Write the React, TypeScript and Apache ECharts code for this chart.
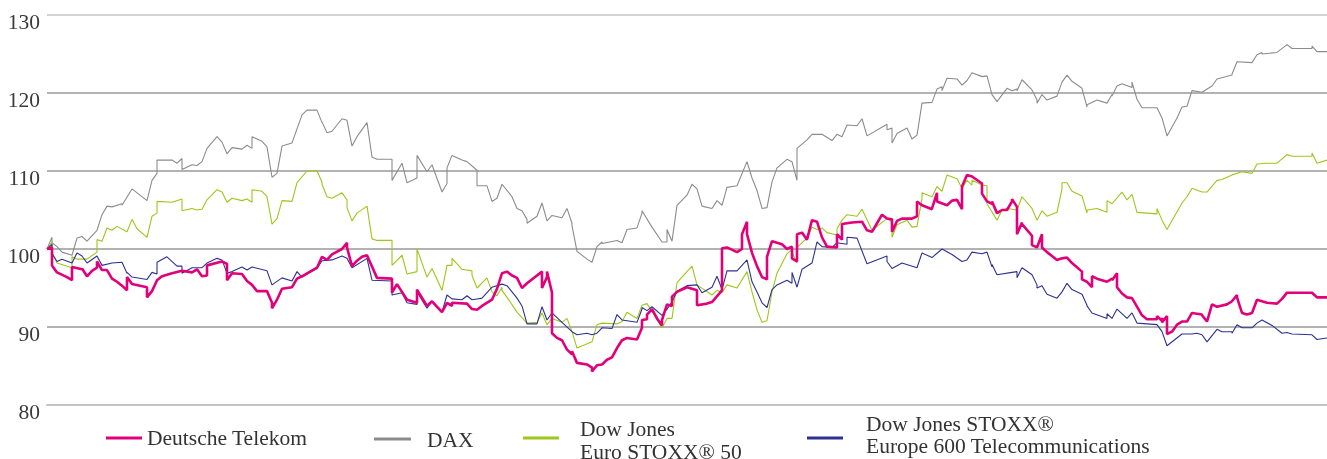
import React, { useEffect, useRef } from "react";
import * as echarts from "echarts";

// x = trading day of the year (0 = start, index 100), y = indexed value
const yTicks = [80, 90, 100, 110, 120, 130];
const seriesNames = ["Deutsche Telekom", "DAX", "Dow Jones\nEuro STOXX® 50", "Dow Jones STOXX®\nEurope 600 Telecommunications"];

const dax: [number, number][] = [
  [0,100],[1,101.5],[1,100.8],[2,100.3],[3,99.6],[5,99.2],[6,101.4],[7,101.6],[8,101],[10,102.4],[11,104.4],[12,105.5],[13,105.4],[15,105.8],[15,105.6],[17,107.7],[20,106.2],[21,108.8],[22,109.7],[22,111.4],[25,111.4],[26,111.0],[27,111.6],[27,110.2],[29,110.8],[30,110.7],[31,111.2],[32,112.9],[34,114.4],[35,113.7],[36,112.2],[37,113],[39,112.8],[40,113.3],[41,112.9],[41,114.4],[43,113.8],[44,113.1],[45,109.2],[46,109.7],[47,113.2],[49,113.6],[51,117.2],[52,117.8],[54,117.8],[55,116.2],[55,116.3],[56,114.9],[57,115.1],[59,116.7],[60,116.5],[61,113.2],[62,114.4],[64,116.2],[65,111.8],[66,111.5],[69,111.5],[69,108.8],[71,111],[72,108.5],[74,109.1],[74,112],[76,109.9],[77,110.8],[79,107.3],[80,108.4],[80,110.4],[81,112],[83,111.4],[84,111.2],[86,110.1],[86,108.1],[88,108.1],[89,106.1],[90,106.5],[91,108.3],[93,106.7],[94,105.2],[95,104.9],[96,103.8],[96,103.3],[98,104.2],[99,105.9],[100,103.6],[101,104.3],[103,104],[104,105.2],[105,103.3],[105,103],[106,99.7],[108,98.7],[109,98.3],[110,100.3],[111,100.9],[111,100.7],[114,101.1],[115,100.8],[116,102.5],[118,102.7],[119,104.6],[119,104.9],[121,102.8],[123,100.9],[124,100.9],[124,102.5],[125,101],[126,105.6],[128,106.9],[129,108.3],[130,107.7],[131,105.5],[133,105.2],[134,106.2],[135,105.6],[136,107.9],[138,108.1],[140,111.2],[141,109.1],[142,107.5],[143,105.2],[144,105.3],[145,108.6],[146,110.4],[148,111.5],[149,111.2],[150,108.8],[150,112.9],[152,114],[153,114.7],[155,114.7],[157,113.9],[158,114.7],[159,114.4],[160,115.9],[162,115.8],[163,116.7],[164,114.5],[168,116],[168,115.3],[169,115.5],[169,113.6],[170,114.8],[172,115.5],[173,114.1],[174,114.6],[175,118.7],[177,118.8],[178,120.5],[179,120.8],[179,120.3],[180,121.9],[182,121.8],[183,121],[184,121.6],[185,122.6],[187,122.1],[188,122.2],[189,119.8],[190,118.9],[192,120.6],[193,120.3],[194,120.5],[194,120.3],[195,121.7],[197,120.4],[198,119.1],[198,118.7],[199,119.8],[200,119.1],[202,119.6],[203,121.4],[204,122.3],[205,121.5],[207,120.6],[208,118.2],[208,118.5],[210,119.1],[212,118.7],[213,119.8],[213,119.6],[214,120.9],[215,121.2],[217,120.7],[217,121.4],[218,119.2],[219,118.1],[222,118.1],[223,116.8],[224,114.5],[226,116.8],[227,118.2],[228,118.3],[229,120.3],[231,120.1],[233,120.9],[234,121.8],[237,122.3],[237,122.4],[238,124],[241,123.9],[242,124.9],[243,125.2],[243,125],[246,125.2],[248,126.2],[249,125.7],[253,125.7],[253,126],[254,125.3],[256,125.3]
];

const euroStoxx50: [number, number][] = [
  [0,100],[1,100.9],[1,99.6],[2,98.2],[5,97.6],[5,99],[6,98.7],[8,98.7],[10,99.6],[10,101.2],[11,101],[12,102.7],[13,102.4],[14,102.9],[16,102.2],[17,103.8],[18,102.6],[20,101.5],[21,104.2],[22,104.6],[22,106.1],[25,106],[27,106.4],[27,104.9],[29,105.2],[30,105],[31,105.1],[32,106.3],[34,107.6],[35,107.3],[36,106],[37,106.5],[39,106.2],[40,106.4],[41,106],[41,107.6],[43,107.4],[44,106.7],[45,103.2],[46,103.9],[47,106.2],[49,106.1],[50,108.5],[52,110],[54,110],[55,108.6],[55,108.3],[56,106.7],[57,106.5],[59,107.2],[60,106.3],[60,105.3],[61,103.6],[62,104.6],[64,105.5],[65,101.3],[66,101.1],[69,101.1],[69,97.9],[71,99.2],[72,96.8],[74,97.1],[74,100],[76,96.4],[77,97.5],[79,94.7],[80,97.9],[81,97.9],[81,98.8],[83,97.4],[85,97.2],[85,96.6],[86,95],[88,96.3],[89,94.5],[90,94],[91,95.1],[91,94.7],[92,93.8],[94,91.9],[96,90.5],[98,90.6],[99,91.8],[100,90.3],[101,91.1],[103,90.6],[104,91.1],[105,89.4],[106,87.3],[109,88.1],[110,90.3],[111,90.5],[114,90.4],[115,90.7],[116,91.9],[118,91.1],[119,92.8],[120,93],[121,92],[123,89.9],[124,91.1],[125,91.1],[126,95.7],[127,96.4],[129,97.8],[130,95.4],[133,94.1],[134,94.7],[135,94.4],[136,95.4],[138,95],[140,97.1],[141,94.5],[142,92.2],[143,90.6],[144,90.8],[145,94.5],[146,96.9],[148,99.4],[149,99.9],[149,99.6],[150,98.2],[150,100.2],[152,101.4],[153,102.8],[154,102.5],[155,102.7],[156,102.1],[158,101.8],[158,102.6],[159,103.7],[160,104.4],[162,104.2],[163,105.1],[165,102.4],[168,103.9],[169,103.5],[169,101.5],[170,103.1],[172,103.7],[173,102.8],[174,102.9],[175,106.5],[175,107.2],[177,106.7],[178,108],[179,107.4],[180,109.5],[182,109],[183,107.8],[184,108.8],[185,108.2],[185,108.8],[187,108.2],[188,108.1],[188,105.8],[190,103.7],[191,105],[192,105.2],[194,105],[195,106.7],[197,105.2],[198,103.7],[199,104.9],[200,104.2],[202,104.7],[203,107.7],[203,108.5],[204,108.5],[205,107.4],[207,106.8],[208,104.6],[208,105],[210,105.2],[212,104.7],[212,106.2],[213,105.8],[215,107.3],[216,106.3],[217,107],[218,104.7],[222,104.5],[222,105.2],[223,103.7],[224,102.5],[227,105.9],[228,106.7],[229,107.8],[231,107.3],[232,107.3],[234,108.8],[235,108.9],[236,109.2],[237,109.5],[239,109.9],[241,109.7],[242,110.9],[244,111],[246,111],[248,112.1],[249,111.9],[253,111.9],[253,112.3],[254,111],[256,111.4]
];

const stoxxTelecom: [number, number][] = [
  [0,100],[1,100.6],[1,99.4],[2,98.4],[3,98.7],[5,98.2],[6,99.5],[7,99.1],[8,98.2],[10,99.1],[11,97.9],[13,98.2],[15,98.3],[16,96.9],[16,97],[17,96.4],[20,96.1],[21,97],[22,96.8],[22,98.3],[24,99],[26,97.8],[27,97.8],[27,96.9],[29,97.6],[31,97.6],[32,98.2],[34,98.8],[35,98.6],[36,96.9],[37,97.1],[39,97.7],[40,97.3],[41,97.7],[44,97.2],[45,95.4],[47,96.3],[49,95.9],[50,97.1],[51,96.4],[52,96.8],[54,97.5],[55,98.5],[57,98.6],[59,99.1],[60,98.8],[61,97.6],[64,98.8],[65,96],[69,95.9],[69,94.1],[71,94.4],[72,93.1],[74,92.9],[74,94.5],[76,92.4],[77,93.3],[79,91.9],[80,94.1],[81,93.6],[83,93.5],[84,94],[85,93.5],[86,93.6],[87,93.7],[89,95.1],[91,95.5],[92,95.3],[93,94.5],[94,93.7],[95,92.7],[96,90.4],[98,90.4],[99,92.6],[100,90.9],[101,91.8],[103,90.6],[105,89.4],[106,89],[108,89.2],[109,89],[110,89.2],[111,89.9],[113,89.8],[114,91.6],[115,90.9],[118,90.6],[119,92.3],[119,92.5],[120,92.1],[121,92.6],[123,91.5],[124,92.3],[125,93.2],[126,94.6],[128,95.3],[130,95.4],[131,94.4],[133,95.1],[134,96.5],[135,94.8],[136,97.2],[138,97.2],[140,98.6],[141,95.8],[142,94.5],[143,93.1],[144,92.5],[145,94.8],[146,95.4],[148,96],[149,95.6],[149,97],[150,95.1],[151,97.4],[153,98.2],[154,100.9],[155,100.3],[157,100.2],[158,100.8],[160,100.6],[160,101.5],[162,101.4],[164,98.1],[168,99.1],[168,98.4],[169,97.5],[171,98.2],[174,97.6],[175,99.5],[177,98.9],[179,100],[181,99.3],[183,98.4],[184,98.6],[185,99.6],[187,99.4],[188,99.6],[189,97.7],[189,98],[190,96.7],[193,97],[194,97.1],[194,96.3],[195,97.6],[197,96.7],[198,95.4],[198,95],[199,95.3],[200,94.2],[202,93.7],[203,94.5],[204,95.6],[205,94.8],[207,94.2],[208,92.8],[208,92.7],[209,91.8],[212,91.1],[212,91.7],[213,91.1],[214,92.3],[216,91.1],[217,91.8],[218,90.5],[222,90.3],[223,89.4],[224,87.6],[227,89.1],[229,89.1],[230,89.2],[231,89],[232,88.1],[234,89.7],[235,89.4],[237,89.4],[237,89.2],[238,90.3],[239,89.9],[241,89.9],[242,90.5],[243,90.9],[245,90.2],[247,89.2],[248,89.3],[249,89.1],[253,89],[254,88.4],[256,88.6]
];

const telekom: [number, number][] = [
  [0,100],[1,100.2],[1,98.9],[1,97.9],[2,97],[4,96.4],[5,96],[5,96.2],[5,97.7],[7,97.4],[7,97.5],[8,96.5],[9,97.2],[10,97.6],[10,98.4],[11,97.3],[12,97.3],[13,96.2],[14,95.8],[15,95.3],[16,94.7],[16,96.4],[17,95.5],[20,95.1],[20,93.8],[21,94.6],[22,96],[23,96.5],[25,96.9],[27,97.2],[29,97],[30,97.4],[31,96.5],[32,96.6],[32,97.9],[35,98.4],[36,98.1],[36,96],[37,96.9],[39,96.8],[40,95.9],[41,95.4],[42,94.6],[44,94.6],[45,93.1],[45,92.4],[46,93.5],[47,94.9],[49,95.1],[50,96.2],[51,96.5],[54,97.6],[55,99],[56,98.6],[57,99.3],[59,100],[60,100.8],[60,100.2],[61,97.8],[62,98.5],[63,99],[64,99.2],[66,96.3],[69,96.2],[69,94.4],[70,95.5],[72,93.5],[74,93.1],[74,94.8],[76,92.7],[77,93.3],[79,91.9],[80,93.1],[81,92.7],[81,93.1],[84,93],[85,92.3],[86,92.2],[87,92.7],[89,93.5],[90,94.9],[91,96.9],[92,97.1],[93,96.6],[94,96.3],[95,95],[96,95.6],[99,97.1],[99,95],[100,96.4],[100,97.1],[101,94.4],[101,89.2],[102,88.6],[103,88.3],[104,87.1],[105,86.5],[105,86.9],[106,85.4],[108,85.2],[109,84.8],[109,84.3],[110,85.1],[111,85.2],[112,85.8],[113,86.1],[114,87.3],[115,88.3],[116,88.6],[118,88.4],[119,89.9],[119,90.9],[120,91],[120,91.6],[121,92.3],[122,91.1],[123,90.2],[123,90.9],[124,92.9],[125,92.7],[125,93.9],[126,94.5],[128,95.1],[130,94.7],[130,92.8],[132,93],[133,93.2],[135,94.7],[135,100.1],[136,100.2],[138,99.6],[139,100],[139,101.9],[140,103.5],[140,101.9],[141,99.5],[142,97.8],[143,96.4],[144,96.1],[144,99],[145,101],[147,100.6],[148,100],[149,100.3],[149,98.8],[150,98.4],[150,101.9],[151,102.1],[152,101.2],[153,103.7],[154,103.5],[155,101.5],[156,100.3],[158,100.2],[158,101.9],[159,101.2],[159,103.2],[161,103.4],[163,103.5],[164,102.4],[165,102.2],[166,103.3],[167,104.4],[168,103.9],[169,103.8],[169,102.2],[170,103.6],[171,103.9],[173,103.9],[174,104.2],[174,106.1],[175,105.6],[177,105.1],[177,105.2],[178,107.2],[178,106.1],[180,105.6],[181,106.2],[182,106.3],[183,105.1],[183,108],[184,109.5],[185,109.3],[187,108.4],[187,107.1],[188,106.1],[189,105.8],[189,106.1],[190,104.6],[191,105],[192,105],[193,106.1],[193,106.4],[194,105.4],[194,101.9],[195,103.4],[195,103.2],[197,101.7],[197,100.5],[198,100.2],[199,101.9],[199,100.2],[200,99.6],[202,98.6],[203,98.8],[204,98.9],[205,98.2],[207,97.1],[207,96.1],[208,95.8],[209,95.1],[209,96.5],[210,96.2],[212,95.8],[213,96.2],[213,96],[214,96.9],[214,95.1],[215,94.3],[216,93.8],[217,93.7],[218,92.6],[219,91.5],[220,91],[222,91],[222,91.4],[223,90.8],[223,91.2],[223,90.6],[224,91.4],[224,89.1],[225,89.4],[226,90.3],[227,90.7],[228,90.7],[229,91.8],[231,91.6],[231,91.5],[232,90.7],[233,92.9],[234,92.6],[236,92.9],[237,93.3],[238,94.1],[238,93.8],[239,91.8],[240,91.6],[241,91.8],[242,93.5],[244,93.1],[246,93],[247,93.6],[248,94.4],[253,94.4],[254,93.8],[256,93.8]
];

const colors = { telekom: "#e2007a", dax: "#8c8c8c", euro: "#9dc71a", telecom: "#2e3192" };
const FONT = '"Liberation Serif", "Times New Roman", serif';

export default function App() {
  const ref = useRef<HTMLDivElement>(null);
  useEffect(() => {
    if (!ref.current) return;
    const chart = echarts.init(ref.current, undefined, { renderer: "svg" });
    const legendFont = `21.5px ${FONT}`;
    const textFill = "#333";
    chart.setOption({
      animation: false,
      grid: { left: 47, right: 0, top: 15, bottom: 54 },
      xAxis: {
        type: "value",
        min: 0,
        max: 256,
        axisLabel: { show: false },
        axisTick: { show: false },
        splitLine: { show: false },
        axisLine: { show: true, lineStyle: { color: "#c4c4c4", width: 2 } },
      },
      yAxis: {
        type: "value",
        min: yTicks[0],
        max: yTicks[yTicks.length - 1],
        interval: 10,
        axisLine: { show: false },
        axisTick: { show: false },
        axisLabel: {
          fontFamily: FONT,
          fontSize: 21.5,
          lineHeight: 14,
          color: "#3a3a3a",
          margin: 7,
          verticalAlign: "top",
        },
        splitLine: {
          lineStyle: { color: ["#c4c4c4", "#999", "#999", "#999", "#999", "#c4c4c4"], width: 1.5 },
        },
      },
      series: [
        { name: "DAX", type: "line", data: dax, symbol: "none", lineStyle: { color: colors.dax, width: 1.1 }, z: 2 },
        { name: "Euro", type: "line", data: euroStoxx50, symbol: "none", lineStyle: { color: colors.euro, width: 1.1 }, z: 3 },
        { name: "Telecom", type: "line", data: stoxxTelecom, symbol: "none", lineStyle: { color: colors.telecom, width: 1.1 }, z: 4 },
        { name: "Telekom", type: "line", data: telekom, symbol: "none", lineStyle: { color: colors.telekom, width: 2.6 }, z: 5 },
      ],
      graphic: [
        { type: "line", shape: { x1: 106, y1: 438, x2: 142, y2: 438 }, style: { stroke: colors.telekom, lineWidth: 3 } },
        { type: "text", x: 147, y: 438, style: { text: seriesNames[0], font: legendFont, fill: textFill, verticalAlign: "middle" } },
        { type: "line", shape: { x1: 374, y1: 439, x2: 411, y2: 439 }, style: { stroke: colors.dax, lineWidth: 3 } },
        { type: "text", x: 427, y: 440, style: { text: seriesNames[1], font: legendFont, fill: textFill, verticalAlign: "middle" } },
        { type: "line", shape: { x1: 523, y1: 438, x2: 559, y2: 438 }, style: { stroke: colors.euro, lineWidth: 3 } },
        { type: "text", x: 580, y: 440, style: { text: seriesNames[2], font: legendFont, fill: textFill, verticalAlign: "middle", lineHeight: 23 } },
        { type: "line", shape: { x1: 807, y1: 438, x2: 843, y2: 438 }, style: { stroke: colors.telecom, lineWidth: 3 } },
        { type: "text", x: 866, y: 435, style: { text: seriesNames[3], font: legendFont, fill: textFill, verticalAlign: "middle", lineHeight: 22 } },
      ],
    });
    return () => chart.dispose();
  }, []);
  return <div ref={ref} style={{ position: "fixed", left: 0, top: 0, width: 1327, height: 459 }} />;
}
